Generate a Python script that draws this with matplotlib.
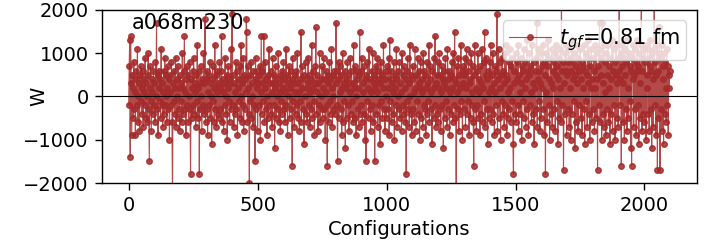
import numpy as np
import matplotlib.pyplot as plt

ensemble = "a068m230"
flow_label = r"$t_{gf}$=0.81 fm"
step = 2  # configuration spacing of the values below

# W per configuration in units of 100 (one value every 2 configs)
w_hundreds = [
    -2, 7, 13, -14, 14, 3, -9, 5, 2, -5, 8, -3, 1, -9, 4, 6, -2, 11, -6, 0, 3, -8, 5, -1, 7,
    -4, 2, 6, -7, 1, 4, -2, 9, -5, 3, 0, -6, 5, 10, -3, -15, 2, 7, -1, -8, 4, 1, -4, 6, -2,
    3, -6, 8, 0, 17, -3, 5, -9, 2, 6, -1, 4, -5, 11, -2, 3, -7, 1, 6, -4, 9, -2, 0, 5, -6,
    2, 7, -3, 4, -10, 1, 5, -2, 8, -6, -23, 3, -1, 6, -4, 2, 9, -7, 4, 0, -5, 7, -3, 2, -8,
    5, -1, 3, -6, 10, 2, -4, 6, 14, -3, 1, -9, 4, 7, -2, 5, -6, 0, 8, -3, -18, 4, 2, -5, 6,
    -2, 9, -4, 3, 1, -7, 5, -1, 12, -5, 2, 6, -18, 3, -3, 7, 0, -8, 4, -2, 10, -4, 3, 18, -6,
    4, -3, 6, -9, 1, 5, -2, 8, -5, 3, 0, -11, 4, 7, -1, 2, -6, 12, -3, 5, -7, 1, 6, -4, 3,
    -5, 8, 2, -3, 6, 14, -6, 1, 4, -8, 3, -2, 9, -4, 0, 5, -10, 2, 7, -1, 4, -6, 3, 11, -3,
    21, 19, -2, 5, -7, 3, 1, -4, 8, -3, 6, -9, 2, 4, -1, 7, -5, 0, 12, -6, 3, -2, 9, -8, 5,
    -3, 4, 1, 18, 15, -6, 2, 7, -4, -20, 5, -1, 8, -5, 3, 0, -7, 6, -2, 4, -15, 9, -3, 2, 6,
    -8, 3, 5, -2, 7, -10, 1, 14, -4, 6, -1, 3, 14, -6, 2, 8, -3, 4, -9, 0, 5, -5, 11, -2, 3,
    6, -4, 1, -7, 9, 3, -2, 5, -12, 2, 7, -5, 4, 0, -3, 10, -6, 3, 1, -8, 5, -1, 6, -4, 2,
    8, -3, 4, -6, 1, 11, -2, 5, -9, 3, 0, 7, -5, 2, 6, -3, 4, -16, 9, -1, 3, -7, 5, 1, -4,
    6, -2, 10, -5, 3, 1, -8, 4, -1, 15, -6, 2, 7, -3, 5, -11, 0, 4, 8, -4, 2, -6, 3, 9, -2,
    5, -7, 1, 4, -3, 12, -5, 2, 6, -1, -9, 3, 7, 16, -4, 1, 5, -8, 3, -2, 10, -6, 4, 0, -3,
    7, -5, 2, 9, -3, 4, -10, 1, 6, -2, -16, 5, 3, -6, 8, -1, 4, -4, 11, 2, -7, 5, 0, -3, 6,
    -4, 3, 17, 6, -2, -15, 4, 8, -5, 1, 7, -3, 5, -9, 2, 10, -6, 3, -1, 6, -12, 4, 2, -5, 8,
    -2, 5, -8, 3, 1, 9, -4, 6, -1, 3, -6, 12, 2, -5, 7, 0, -9, 4, 6, -3, 2, -7, 5, 15, -4,
    6, -2, 9, -6, 3, 1, -4, 7, -10, 4, -15, 5, -1, 8, 2, -5, 11, -3, 4, -8, 1, 6, -2, 10, -6,
    3, 5, -15, 2, 7, -4, 1, 9, -7, 4, -2, 6, -11, 3, 8, -1, 5, -5, 2, 12, -3, 4, -8, 6, 0,
    -5, 7, 2, -3, 9, -9, 13, -1, 4, 6, -6, 3, 1, -4, 8, -10, 5, 2, -2, 11, -7, 4, 0, 6, -3,
    8, -5, 3, 1, -8, 10, -2, 5, -4, 7, 2, -6, 4, -18, 6, -1, 9, -3, 3, -7, 12, 0, -4, 5, -9,
    4, 7, -3, 1, -6, 11, 2, -8, 5, -1, 9, -4, 3, 6, -10, 2, 8, -5, 1, 4, -7, 10, -2, 6, -3,
    5, -9, 2, 8, -4, 3, -1, 12, -6, 4, 7, -3, 1, -11, 6, 2, -5, 9, -2, 14, -7, 3, 5, -4, 8,
    -6, 2, 10, -3, 5, -8, 1, 7, -2, 4, -12, 6, 3, -5, 9, -1, 2, -7, 11, 4, -3, 6, -9, 1, 5,
    -4, 8, 2, -6, 10, -2, 4, 15, -5, 3, -21, 7, 1, -3, 9, -8, 5, 2, -4, 12, -1, 6, -10, 3, 7,
    -3, 5, 9, -7, 2, 11, -4, 6, -1, 8, -9, 3, 4, -5, 10, 1, -2, 7, -6, -16, 5, 12, -3, 2, -8,
    6, -2, 10, -5, 4, 1, -9, 7, 3, -4, 11, -6, 2, 8, -1, 15, -7, 5, 9, -3, 4, -11, 6, 1, -5,
    8, -3, 12, 2, -6, 5, 10, -4, 3, -9, 7, 1, -2, 6, 19, -8, 4, 11, -5, 2, 8, -10, 5, -1, 9,
    -4, 6, 3, -7, 10, -2, 5, 12, -9, 4, 1, -5, 8, -3, 11, 2, -6, 7, -1, 9, -11, -18, 6, 3, -4,
    10, -6, 4, 8, -2, 12, -8, 5, 1, -4, 9, 3, -10, 7, -1, 6, 11, -5, 2, 8, -7, 4, 13, -3, 6,
    -9, 5, 10, -2, 7, 1, -6, 12, 3, -4, 8, -11, 6, 2, -3, 9, 17, -7, 4, 11, -1, 6, -8, 3, 10,
    -5, 7, 2, 12, -3, 8, -9, 5, -18, 10, 1, -6, 7, 13, -2, 4, -10, 9, 3, -4, 11, -7, 6, 2, 8,
    -3, 10, -8, 5, 12, -1, 7, -11, 4, 9, -5, 2, 11, -6, 22, 6, -2, 8, -17, 3, 10, -4, 6, 12, -9,
    5, 8, -3, 11, -7, 2, 9, -10, 6, 13, -4, 4, 8, -1, 10, -12, 5, 7, -6, 3, 12, -8, 9, -2, 6,
    11, -5, 4, 8, -9, 7, 2, -3, 12, -11, 6, 10, -1, 5, -7, 13, 3, -4, 9, -10, 7, 2, 11, -6, 4,
    -3, 9, 6, -8, 12, 2, -5, 10, 4, -17, 7, -2, 11, 17, -6, 5, 9, -10, 17, 3, -4, 12, -7, 8, 1,
    -9, 10, 5, -3, 12, -6, 7, 2, -11, 9, 4, -4, 13, -8, 6, 11, -2, 8, -10, 5, 12, -5, 3, 9, -7,
    6, 23, 4, -2, 10, -16, 7, 12, -6, 3, 9, -10, 5, 11, -3, 8, -8, 13, 2, -5, 10, -1, 7, -12, 6,
    -16, 9, 4, 12, -7, 5, 11, -3, 8, -9, 6, 13, -2, 7, -11, 10, 3, -5, 12, 23, -8, 6, 9, -4, 11,
    -6, 8, 12, -10, 5, 2, 11, -4, 9, -8, 7, 13, -3, 6, -12, 10, 4, -7, 11, 23, -2, 8, -9, 5, 12,
    -17, 6, -5, 10, 16, -17, 9, -3, 12, -8, 7, 4, -11, 10, -4, 8, 2, -6, 11, -2, 7, -9, 5, 2, 6,
]

w = np.array(w_hundreds) * 100
configs = np.arange(len(w)) * step

fig = plt.figure(figsize=(7.18, 2.48), dpi=100)
ax = fig.add_axes([0.1415, 0.262, 0.829, 0.698])

ax.plot(configs, w, 'o-', color='brown', ms=4, lw=0.8, alpha=0.85, label=flow_label)
ax.axhline(0, color='k', lw=0.8)

ax.set_ylim(-2000, 2000)
ax.set_xticks([0, 500, 1000, 1500, 2000])
ax.set_yticks([-2000, -1000, 0, 1000, 2000])
ax.tick_params(labelsize=14, length=4.7, width=1, pad=4.5)
for spine in ax.spines.values():
    spine.set_linewidth(1)
ax.set_xlabel("Configurations", fontsize=14)
ax.set_ylabel("W", fontsize=14)
ax.yaxis.set_label_coords(-0.089, 0.5)
ax.text(0.05, 0.98, ensemble, transform=ax.transAxes, fontsize=15, va='top')
ax.legend(loc='upper right', fontsize=15, borderpad=0.3, handletextpad=0.4)

fig.savefig("out.png", dpi=100)
